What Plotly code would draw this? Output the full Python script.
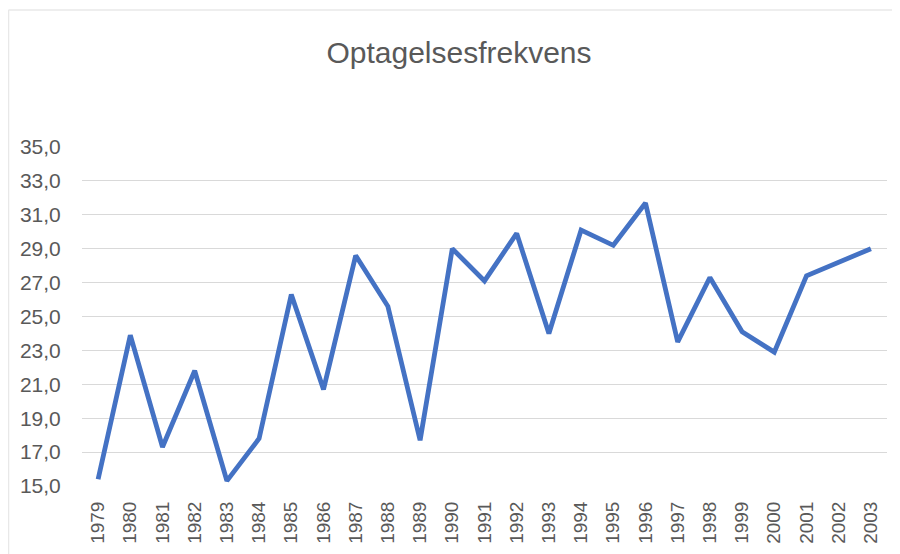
import plotly.graph_objects as go

years = [str(y) for y in range(1979, 2004)]
values = [15.4, 23.9, 17.3, 21.8, 15.3, 17.8, 26.3, 20.7, 28.6, 25.6, 17.7,
          29.0, 27.1, 29.9, 24.0, 30.1, 29.2, 31.7, 23.5, 27.3, 24.1, 22.9,
          27.4, 28.2, 29.0]
y_ticks = [15, 17, 19, 21, 23, 25, 27, 29, 31, 33, 35]
title_text = "Optagelsesfrekvens"

TXT = "#595959"
GRID = "#d9d9d9"
FONT = "Liberation Sans, Arial, sans-serif"

# page has an 8px body margin; figure is sized to fill the rest of the window
W, H = 892, 546
L, R, T, B = 74, 13, 139, 68
PW, PH = W - L - R, H - T - B

fig = go.Figure()
fig.add_trace(go.Scatter(
    x=years, y=values, mode="lines",
    line=dict(color="#4472C4", width=4.8),
    cliponaxis=False, showlegend=False,
))

fig.update_layout(
    width=W, height=H,
    margin=dict(l=L, r=R, t=T, b=B, autoexpand=False),
    paper_bgcolor="white", plot_bgcolor="white",
    title=dict(text=title_text, x=451/W, xanchor="center",
               y=1 - 44/H, yanchor="middle",
               font=dict(family=FONT, size=30, color=TXT)),
    separators=",.",
    font=dict(family=FONT, color=TXT),
)
fig.update_xaxes(
    type="category", range=[-0.5, len(years) - 0.5],
    showgrid=False, showline=False, zeroline=False,
    tickangle=-90, tickfont=dict(size=19, color=TXT, family=FONT),
    ticks="outside", ticklen=7, tickcolor="rgba(0,0,0,0)",
)
fig.update_yaxes(
    range=[15, 35], tickvals=y_ticks, tickformat=".1f",
    showgrid=True, gridcolor=GRID, gridwidth=1.3, zeroline=False, showline=False,
    tickfont=dict(size=21, color=TXT, family=FONT),
    ticks="outside", ticklen=16, tickcolor="rgba(0,0,0,0)",
)
# chart border (left and top edges visible)
bx = (0.5 - L) / PW
by = (PH + T - 2) / PH
fig.add_shape(type="line", xref="paper", yref="paper",
              x0=bx, x1=bx, y0=-B / PH, y1=by,
              line=dict(color="#e8e8e8", width=1.5))
fig.add_shape(type="line", xref="paper", yref="paper",
              x0=bx, x1=(W - L) / PW, y0=by, y1=by,
              line=dict(color="#e8e8e8", width=1.5))

fig.write_html("out.html")
